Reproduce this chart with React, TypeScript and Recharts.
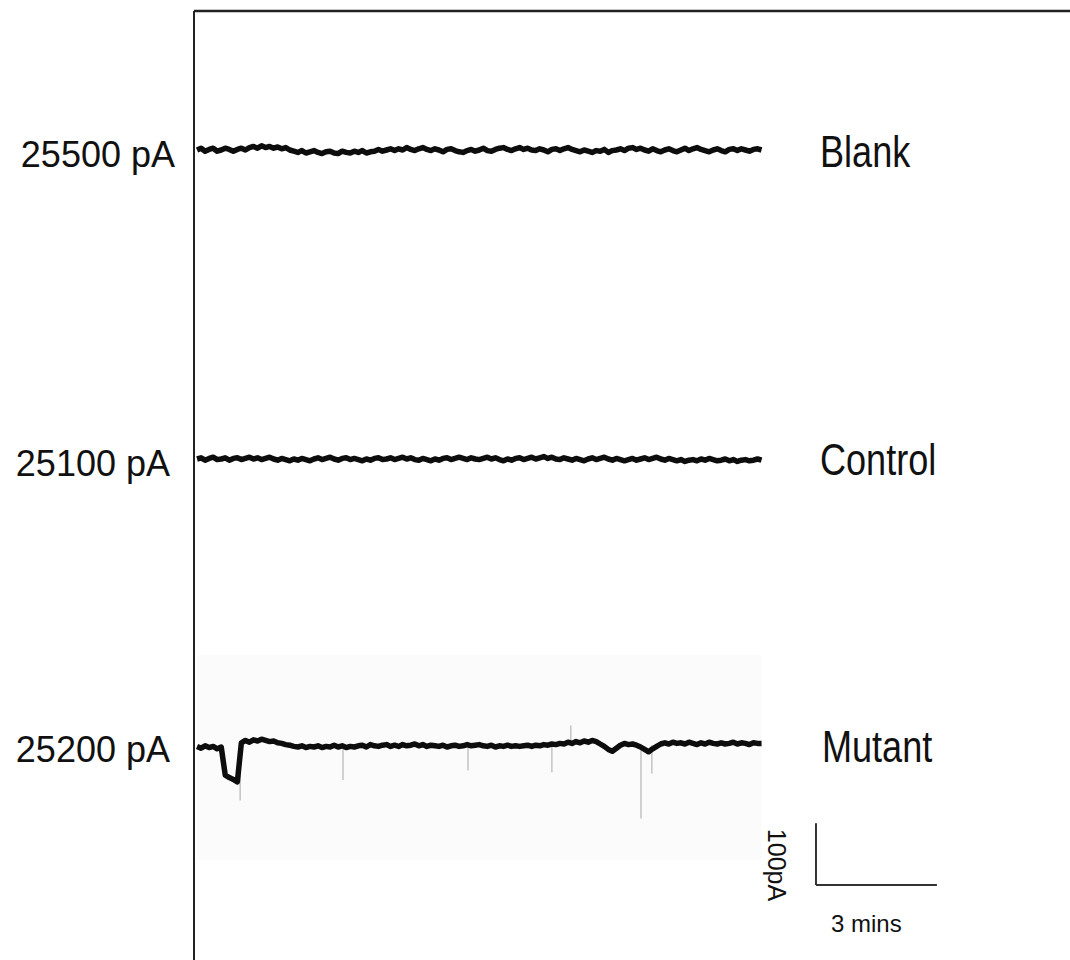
import { LineChart, Line, XAxis, YAxis, ReferenceLine, ReferenceArea } from 'recharts'

// recording traces, pA relative to each trace's own baseline, sampled every 0.1 min
const blankTrace = [
  0, 3, -2, 1, 3, -2, 0, 3, 1, -2,
  1, 3, 0, 4, 6, 3, 7, 4, 6, 3,
  5, 2, 4, 0, -2, -4, -1, -5, -3, -1,
  -4, -6, -3, -2, -5, -6, -2, -4, -5, -2,
  -4, -1, -5, -3, -2, 1, -2, 0, 2, -1,
  2, 0, 4, 1, -1, 2, 4, 1, -1, 2,
  0, -3, 1, 2, -1, -3, -4, -1, 1, -2,
  0, 3, -1, -2, 1, 3, 4, 1, -1, 2,
  4, 1, 3, 0, -1, 2, 0, -3, 1, 2,
  -1, 2, 4, 1, -1, -3, 0, -2, -4, -1,
  -2, 1, -4, -1, 0, 2, -1, 3, 4, 1,
  3, 0, -2, 2, -1, -3, 0, 2, -1, -3,
  0, 3, -1, 2, 4, 1, -1, -3, 0, 2,
  -1, -3, 1, 2, -1, 2, 0, -2, 1, 2,
  0,
]

const controlTrace = [
  0, 2, -2, 1, 3, -1, 0, 2, -2, 1,
  2, -1, 1, 3, 0, 2, -1, 1, 3, 0,
  -2, 1, -1, -3, 0, -2, 1, -1, -3, 0,
  2, -1, 1, 3, 0, -2, 1, 2, -1, 1,
  -1, -3, 0, -2, 1, 2, -1, 0, 2, -1,
  1, 3, 0, 2, -1, -2, 1, -1, -3, 0,
  -2, 1, 2, -1, 1, 3, 1, -1, 2, 0,
  -1, 1, 3, 0, 2, -1, -3, 0, -2, 1,
  2, -1, 1, 3, 0, 2, 4, 1, 3, 0,
  -1, 2, 0, -2, 1, -1, -3, 0, 2, -1,
  1, 3, 0, -2, 1, -1, -3, -1, 1, -2,
  0, 2, -1, 1, 3, 0, -2, 1, -1, -3,
  -1, -4, -2, -1, -3, 0, -2, 1, -1, -3,
  -2, 0, -3, -1, -4, -2, -1, -3, -2, 0,
  -2,
]

const mutantTrace = [
  -2, -5, -1, -4, -2, -6, -3, -50, -54, -57, -61,
  4, 8, 5, 9, 7, 10, 8, 6, 7, 4,
  3, 1, 0, -2, -3, -1, -4, -2, -3,
  -1, -4, -2, -3, 0, -3, -1, -4, -2, -3,
  -1, 0, -3, 1, -1, -2, 0, 1, -2, 0,
  -2, 1, -1, 0, 2, -1, 1, -2, 0, -1,
  -2, 0, -3, -1, 0, -2, -1, 1, -1, 0,
  1, -1, -2, 0, -3, -1, -2, 0, -2, -1,
  -2, -1, 0, -2, 0, -1, 1, 0, 2, 1,
  3, 2, 5, 3, 6, 4, 7, 5, 8, 6,
  2, -2, -7, -10, -5, 0, 3, 1, 2, 0,
  -3, -7, -11, -6, -2, 2, 4, 2, 5, 3,
  4, 2, 5, 3, 1, 4, 2, 5, 3, 2,
  4, 2, 3, 5, 2, 4, 3, 1, 4, 3,
  3,
]

// brief single-sample spikes in the mutant record (min, pA)
const spikeTimes = [1.07, 3.62, 6.72, 8.8, 9.27, 11.01, 11.28]
const spikeDepths = [-92, -58, -42, -45, 33, -122, -47]

const levelLabels = ['25500 pA', '25100 pA', '25200 pA']
const traceNames = ['Blank', 'Control', 'Mutant']

const SAMPLE_STEP = 0.1

// display baselines (pA on the drawing scale)
const BLANK_OFFSET = 1350
const CONTROL_OFFSET = 835
const MUTANT_OFFSET = 358
const Y_MAX = 1581.67
const X_MIN = -0.075
const X_MAX = 21.65

const chartData = blankTrace.map((v, i) => ({
  t: +(i * SAMPLE_STEP).toFixed(2),
  blank: BLANK_OFFSET + v,
  control: CONTROL_OFFSET + controlTrace[i],
  mutant: MUTANT_OFFSET + mutantTrace[i],
}))

const spikeData = spikeTimes.flatMap((t, i) => [
  { t, spike: MUTANT_OFFSET },
  { t, spike: MUTANT_OFFSET + spikeDepths[i] },
  { t: t + 0.001, spike: null },
])

const offsets = [BLANK_OFFSET, CONTROL_OFFSET, MUTANT_OFFSET]
const tickRight = [175, 170, 170]
const font = '"Liberation Sans", Arial, sans-serif'

const LevelTick = (props: any) => {
  const idx = offsets.indexOf(props.payload.value)
  if (idx < 0) return null
  return (
    <text x={tickRight[idx]} y={props.y + 17} textAnchor="end" fontFamily={font} fontSize={36} fill="#111">
      {levelLabels[idx]}
    </text>
  )
}

const App = () => {
  return (
    <div style={{ position: 'absolute', left: 0, top: 0, width: 1070, height: 960, background: '#fff' }}>
      <LineChart width={1070} height={960} margin={{ top: 11, right: 0, bottom: 0, left: 0 }}>
        <XAxis dataKey="t" type="number" domain={[X_MIN, X_MAX]} allowDataOverflow hide />
        <YAxis
          type="number"
          width={194}
          domain={[0, Y_MAX]}
          allowDataOverflow
          ticks={offsets}
          tick={<LevelTick />}
          tickLine={false}
          axisLine={{ stroke: '#222', strokeWidth: 2 }}
        />
        <ReferenceArea x1={0} x2={14} y1={167} y2={508} fill="#fbfbfb" fillOpacity={1} stroke="none" />
        <ReferenceLine y={Y_MAX} stroke="#222" strokeWidth={2.5} ifOverflow="visible" />
        <Line data={spikeData} dataKey="spike" stroke="#c4c4c4" strokeWidth={1.5} dot={false} connectNulls={false} isAnimationActive={false} />
        <Line data={chartData} dataKey="blank" stroke="#0d0d0d" strokeWidth={5.5} dot={false} strokeLinejoin="round" isAnimationActive={false} />
        <Line data={chartData} dataKey="control" stroke="#0d0d0d" strokeWidth={5.5} dot={false} strokeLinejoin="round" isAnimationActive={false} />
        <Line data={chartData} dataKey="mutant" stroke="#0d0d0d" strokeWidth={5.5} dot={false} strokeLinejoin="round" isAnimationActive={false} />
        {/* scale bar: 100 pA by 3 min */}
        <ReferenceLine segment={[{ x: 15.35, y: 228 }, { x: 15.35, y: 125 }]} stroke="#333" strokeWidth={2} ifOverflow="visible" />
        <ReferenceLine segment={[{ x: 15.35, y: 125 }, { x: 18.35, y: 125 }]} stroke="#333" strokeWidth={2} ifOverflow="visible" />
      </LineChart>
      <svg width={1070} height={960} style={{ position: 'absolute', left: 0, top: 0, pointerEvents: 'none' }}>
        <g fontFamily={font} fontSize={44} fill="#111">
          <text transform="translate(820,167) scale(0.82,1)">{traceNames[0]}</text>
          <text transform="translate(820,475) scale(0.82,1)">{traceNames[1]}</text>
          <text transform="translate(822,762) scale(0.82,1)">{traceNames[2]}</text>
        </g>
        <text x={831} y={932} fontFamily={font} fontSize={24} fill="#111">3 mins</text>
        <text transform="translate(768,865) rotate(90)" textAnchor="middle" fontFamily={font} fontSize={25} fill="#111">100pA</text>
      </svg>
    </div>
  )
}

export default App
